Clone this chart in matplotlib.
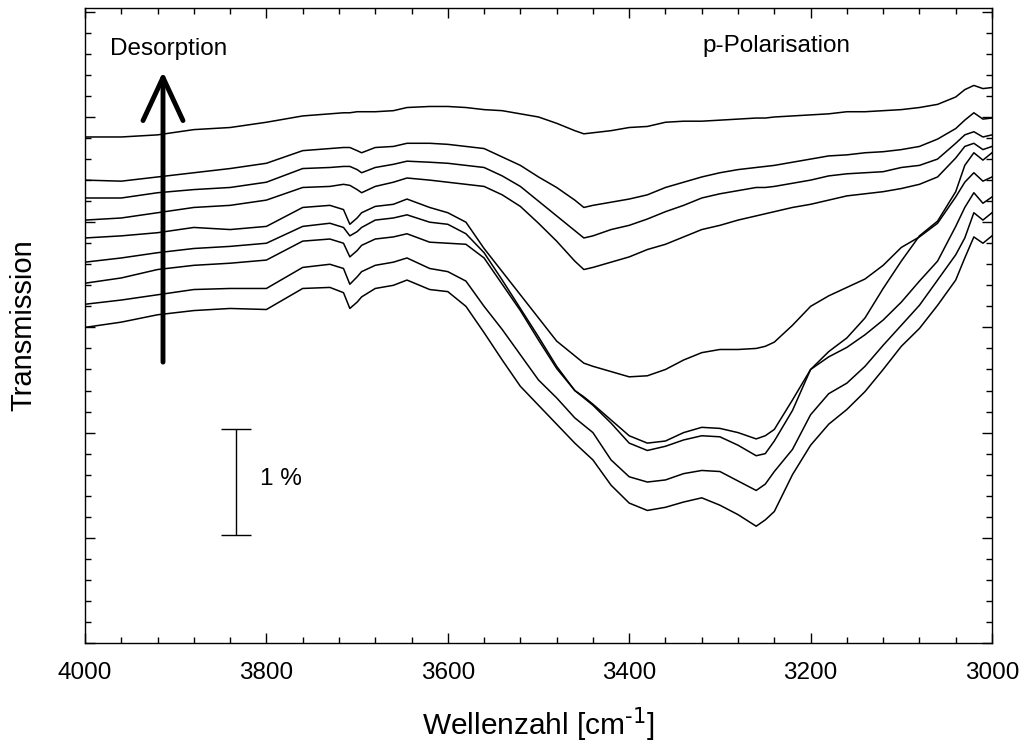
import matplotlib
matplotlib.use("Agg")
import matplotlib.pyplot as plt
from matplotlib.ticker import MultipleLocator, FixedLocator

plt.rcParams['font.family'] = ['Liberation Sans', 'DejaVu Sans']
plt.rcParams['mathtext.default'] = 'regular'

# wavenumber grid [cm^-1]
wavenumber = [4000, 3960, 3920, 3880, 3840, 3800, 3760, 3730,
              3715, 3708, 3700, 3695, 3680, 3660, 3645,
              3620, 3600, 3580, 3560, 3540, 3520, 3500, 3480, 3460,
              3450, 3440, 3420, 3400, 3380, 3360, 3340, 3320, 3300, 3280, 3260,
              3250, 3240, 3220, 3200, 3180, 3160, 3140, 3120, 3100, 3080, 3060, 3040,
              3030, 3020, 3010, 3000]

# transmission spectra (offset, in %), top to bottom
spec1 = [4.81, 4.81, 4.83, 4.88, 4.90, 4.95, 5.01, 5.03,
         5.04, 5.04, 5.05, 5.05, 5.05, 5.06, 5.09,
         5.10, 5.10, 5.09, 5.07, 5.06, 5.03, 5.00, 4.94, 4.87,
         4.84, 4.85, 4.87, 4.90, 4.91, 4.95, 4.96, 4.96, 4.97, 4.98, 4.99,
         4.99, 5.00, 5.01, 5.02, 5.03, 5.05, 5.05, 5.06, 5.07, 5.09, 5.12, 5.19,
         5.26, 5.30, 5.27, 5.28]
spec2 = [4.40, 4.39, 4.43, 4.47, 4.51, 4.56, 4.68, 4.70,
         4.71, 4.71, 4.68, 4.66, 4.71, 4.72, 4.75,
         4.75, 4.74, 4.72, 4.70, 4.62, 4.54, 4.43, 4.33, 4.21,
         4.14, 4.16, 4.19, 4.22, 4.26, 4.33, 4.38, 4.43, 4.47, 4.50, 4.52,
         4.53, 4.54, 4.57, 4.60, 4.63, 4.64, 4.66, 4.67, 4.69, 4.72, 4.79, 4.89,
         4.97, 5.04, 4.98, 4.99]
spec3 = [4.23, 4.23, 4.28, 4.31, 4.33, 4.38, 4.51, 4.52,
         4.53, 4.53, 4.50, 4.47, 4.52, 4.55, 4.58,
         4.57, 4.56, 4.54, 4.52, 4.44, 4.34, 4.20, 4.06, 3.92,
         3.85, 3.87, 3.93, 3.97, 4.03, 4.10, 4.16, 4.23, 4.27, 4.30, 4.33,
         4.33, 4.34, 4.37, 4.40, 4.44, 4.46, 4.47, 4.48, 4.52, 4.54, 4.60, 4.75,
         4.83, 4.86, 4.81, 4.83]
spec4 = [4.02, 4.04, 4.09, 4.14, 4.16, 4.21, 4.33, 4.34,
         4.36, 4.35, 4.31, 4.28, 4.34, 4.38, 4.42,
         4.40, 4.38, 4.36, 4.34, 4.26, 4.15, 3.99, 3.82, 3.63,
         3.55, 3.57, 3.62, 3.67, 3.74, 3.79, 3.86, 3.93, 3.97, 4.02, 4.06,
         4.08, 4.10, 4.14, 4.17, 4.21, 4.25, 4.27, 4.29, 4.32, 4.36, 4.43, 4.61,
         4.72, 4.75, 4.69, 4.72]
spec5 = [3.85, 3.87, 3.90, 3.95, 3.93, 3.96, 4.14, 4.16,
         4.12, 3.98, 4.04, 4.09, 4.15, 4.17, 4.22,
         4.14, 4.09, 4.00, 3.75, 3.53, 3.31, 3.09, 2.87, 2.73,
         2.66, 2.63, 2.58, 2.53, 2.54, 2.60, 2.69, 2.76, 2.79, 2.79, 2.80,
         2.82, 2.86, 3.02, 3.20, 3.30, 3.38, 3.46, 3.59, 3.76, 3.86, 3.99, 4.24,
         4.38, 4.47, 4.39, 4.43]
spec6 = [3.62, 3.66, 3.71, 3.75, 3.77, 3.80, 3.96, 3.99,
         3.95, 3.87, 3.91, 3.95, 4.02, 4.04, 4.07,
         4.00, 3.98, 3.89, 3.71, 3.45, 3.18, 2.91, 2.63, 2.40,
         2.34, 2.27, 2.12, 1.97, 1.90, 1.92, 2.00, 2.05, 2.04, 2.00, 1.94,
         1.97, 2.03, 2.31, 2.60, 2.72, 2.81, 2.93, 3.07, 3.24, 3.44, 3.63, 3.96,
         4.14, 4.28, 4.18, 4.24]
spec7 = [3.42, 3.47, 3.55, 3.59, 3.61, 3.64, 3.82, 3.84,
         3.80, 3.67, 3.73, 3.78, 3.84, 3.86, 3.89,
         3.81, 3.80, 3.79, 3.66, 3.41, 3.16, 2.88, 2.61, 2.40,
         2.33, 2.26, 2.09, 1.90, 1.83, 1.87, 1.93, 1.97, 1.96, 1.88, 1.78,
         1.80, 1.92, 2.21, 2.60, 2.77, 2.90, 3.09, 3.37, 3.63, 3.87, 4.01, 4.29,
         4.54, 4.66, 4.59, 4.66]
spec8 = [3.22, 3.26, 3.31, 3.36, 3.37, 3.37, 3.57, 3.60,
         3.56, 3.41, 3.48, 3.53, 3.59, 3.62, 3.66,
         3.56, 3.53, 3.44, 3.20, 2.98, 2.74, 2.50, 2.33, 2.14,
         2.07, 2.00, 1.74, 1.58, 1.53, 1.55, 1.61, 1.64, 1.63, 1.54, 1.45,
         1.51, 1.63, 1.84, 2.17, 2.37, 2.47, 2.63, 2.83, 3.02, 3.21, 3.45, 3.69,
         3.85, 4.09, 4.02, 4.09]
spec9 = [3.00, 3.05, 3.12, 3.16, 3.18, 3.17, 3.37, 3.38,
         3.33, 3.18, 3.24, 3.29, 3.37, 3.40, 3.45,
         3.36, 3.34, 3.20, 2.95, 2.69, 2.44, 2.26, 2.08, 1.90,
         1.82, 1.74, 1.50, 1.33, 1.26, 1.29, 1.34, 1.38, 1.31, 1.22, 1.11,
         1.17, 1.25, 1.60, 1.88, 2.08, 2.22, 2.39, 2.60, 2.82, 2.99, 3.21, 3.45,
         3.66, 3.86, 3.80, 3.87]
spectra = [spec1, spec2, spec3, spec4, spec5, spec6, spec7, spec8, spec9]

x_ticks = [4000, 3800, 3600, 3400, 3200, 3000]
x_ticklabels = ['4000', '3800', '3600', '3400', '3200', '3000']
scale_bar_pct = 1.0

fig = plt.figure(figsize=(10.23, 7.47), dpi=100)
ax = fig.add_axes([85 / 1023, (747 - 643) / 747, 907 / 1023, 635 / 747])

for s in spectra:
    ax.plot(wavenumber, s, color='black', lw=1.1)

ax.set_xlim(4000, 3000)
ax.set_ylim(0, 6.036)

ax.xaxis.set_major_locator(FixedLocator(x_ticks))
ax.set_xticklabels(x_ticklabels)
ax.xaxis.set_minor_locator(MultipleLocator(40))
ax.yaxis.set_major_locator(MultipleLocator(1))
ax.yaxis.set_minor_locator(MultipleLocator(0.2))
ax.tick_params(which='both', direction='in', top=True, right=True, width=1.0)
ax.tick_params(which='major', length=7)
ax.tick_params(which='minor', length=4)
ax.tick_params(axis='x', labelsize=17.5, pad=14)
ax.tick_params(axis='y', labelleft=False)
for sp in ax.spines.values():
    sp.set_linewidth(1.0)

ax.set_xlabel('Wellenzahl [cm$^{\\text{-1}}$]', fontsize=21.5, labelpad=15)
ax.set_ylabel('Transmission', fontsize=21, labelpad=31)

# scale bar (1 %)
ax.errorbar([3833], [1.53], yerr=[scale_bar_pct / 2], color='black', lw=1.0,
            capsize=11, capthick=1.0)
ax.text(3807, 1.50, '1 %', fontsize=17.5, va='baseline', ha='left')

# desorption arrow
ax.annotate('', xy=(3914, 5.43), xytext=(3914, 2.67),
            arrowprops=dict(arrowstyle='->,head_length=1.55,head_width=0.72',
                            lw=3.5, color='black', mutation_scale=20,
                            shrinkA=0, shrinkB=0))
ax.text(3972, 5.59, 'Desorption', fontsize=17.5, va='baseline', ha='left')
ax.text(3319, 5.62, 'p-Polarisation', fontsize=17.5, va='baseline', ha='left')

fig.savefig('out.png', dpi=100)
